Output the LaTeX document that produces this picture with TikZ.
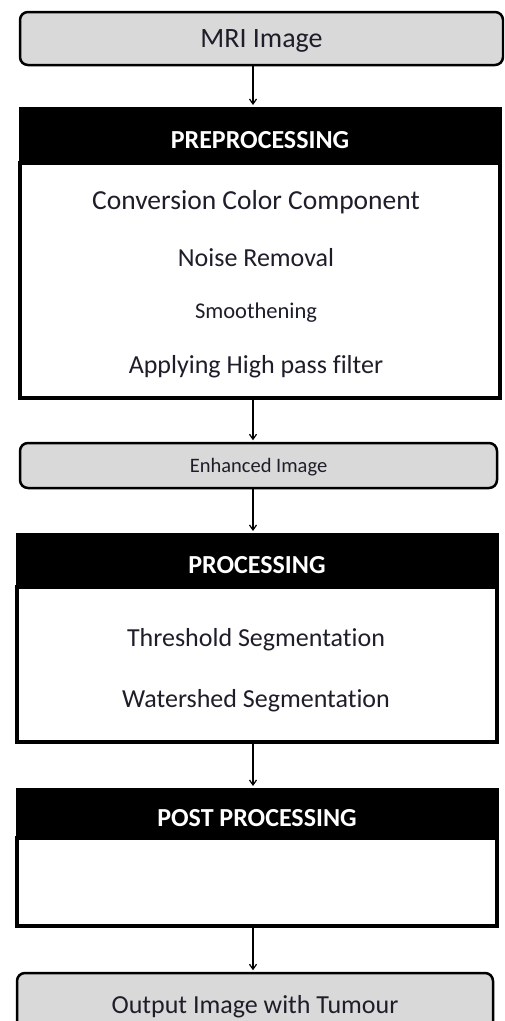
\documentclass[tikz,border=0pt]{standalone}
\usepackage{fontspec}
\setmainfont{Carlito}[Ligatures=NoCommon]
\usetikzlibrary{arrows.meta, positioning, calc}
\definecolor{boxgray}{HTML}{D9D9D9}
\definecolor{inkdark}{HTML}{1E1E2A}
\newcommand{\fsz}[1]{\fontsize{#1}{#1}\selectfont}

\begin{document}
\begin{tikzpicture}[
  x=1pt, y=-1pt,
  every node/.style={font=\fsz{26}, text=inkdark},
  endbox/.style={rectangle, rounded corners=8pt, draw=black, line width=2.5pt, fill=boxgray, inner sep=0pt, text depth=0pt},
  headbox/.style={rectangle, draw=black, fill=black, line width=3pt, text=white, font=\fsz{26}\bfseries, inner sep=0pt, text height=25pt, text depth=0pt},
  bodybox/.style={rectangle, draw=black, fill=white, line width=3.5pt, inner sep=0pt},
  steptext/.style={anchor=base},
  flow/.style={black, line width=1.2pt, shorten >=1.5pt, -{Straight Barb[length=5pt, width=7pt]}},
]
\clip (0,0) rectangle (504,1021);
\coordinate (spine) at (253,0);

\node[endbox, font=\fsz{28}, minimum width=483pt, minimum height=53pt] (mri) at (261.5,38.5) {MRI Image};

% Preprocessing block
\node[bodybox, minimum width=480pt, minimum height=235pt] (prebody) at (260,280.5) {};
\node[headbox, minimum width=480pt, minimum height=55pt] (prehead) at (260,135.5) {PREPROCESSING};
\node[steptext, font=\fsz{27.5}] (conv) at (256,209) {Conversion Color Component};
\node[steptext] (noise) at (256,266) {Noise Removal};
\node[steptext, font=\fsz{22.5}] (smooth) at (256,318) {Smoothening};
\node[steptext] (hpf) at (256,373) {Applying High pass filter};

\node[endbox, font=\fsz{20.5}, minimum width=477pt, minimum height=45pt] (enh) at (258.5,465.5) {Enhanced Image};

% Processing block
\node[bodybox, minimum width=480pt, minimum height=155pt] (probody) at (257,664.5) {};
\node[headbox, minimum width=480pt, minimum height=53pt] (prohead) at (257,560.5) {PROCESSING};
\node[steptext] (thresh) at (256,646) {Threshold Segmentation};
\node[steptext] (water) at (256,707) {Watershed Segmentation};

% Post processing block
\node[bodybox, minimum width=480pt, minimum height=88pt] (postbody) at (257,882) {};
\node[headbox, minimum width=480pt, minimum height=49pt] (posthead) at (257,813.5) {POST PROCESSING};

\node[endbox, minimum width=476pt, minimum height=62pt] (out) at (255,1004) {Output Image with Tumour};

% Connectors
\draw[flow] (mri.south -| spine) -- (prehead.north -| spine);
\draw[flow] (prebody.south -| spine) -- (enh.north -| spine);
\draw[flow] (enh.south -| spine) -- (prohead.north -| spine);
\draw[flow] (probody.south -| spine) -- (posthead.north -| spine);
\draw[flow] (postbody.south -| spine) -- (out.north -| spine);
\end{tikzpicture}
\end{document}
